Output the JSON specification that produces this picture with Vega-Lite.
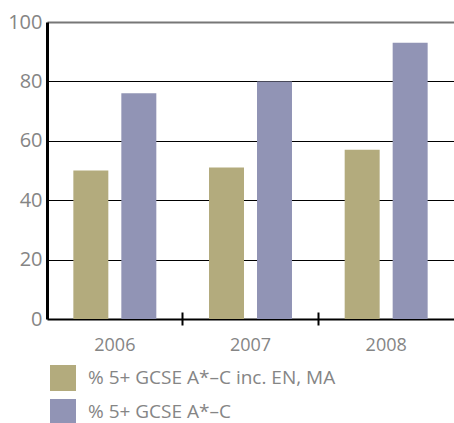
{
  "$schema": "https://vega.github.io/schema/vega-lite/v6.json",
  "width": 407,
  "height": 297,
  "autosize": "none",
  "padding": {"left": 47, "top": 22, "right": 0, "bottom": 104},
  "background": "white",
  "config": {
    "view": {"stroke": null},
    "font": "Open Sans"
  },
  "data": {
    "values": [
      {"year": "2006", "series": "% 5+ GCSE A*–C inc. EN, MA", "value": 50},
      {"year": "2006", "series": "% 5+ GCSE A*–C", "value": 76},
      {"year": "2007", "series": "% 5+ GCSE A*–C inc. EN, MA", "value": 51},
      {"year": "2007", "series": "% 5+ GCSE A*–C", "value": 80},
      {"year": "2008", "series": "% 5+ GCSE A*–C inc. EN, MA", "value": 57},
      {"year": "2008", "series": "% 5+ GCSE A*–C", "value": 93}
    ]
  },
  "mark": {"type": "bar"},
  "encoding": {
    "x": {
      "field": "year",
      "type": "nominal",
      "scale": {"paddingInner": 0, "paddingOuter": 0},
      "axis": {
        "title": null,
        "domain": false,
        "offset": -7,
        "tickSize": 13,
        "tickWidth": 2,
        "tickColor": "black",
        "tickOpacity": {"expr": "datum.value == '2006' ? 0 : 1"},
        "bandPosition": 0,
        "labelAngle": 0,
        "labelPadding": 11,
        "labelFontSize": 18,
        "labelColor": "#858585",
        "labelFont": "Open Sans"
      }
    },
    "xOffset": {
      "field": "series",
      "type": "nominal",
      "sort": ["% 5+ GCSE A*–C inc. EN, MA", "% 5+ GCSE A*–C"],
      "scale": {"paddingInner": 0.271, "paddingOuter": 0.549}
    },
    "y": {
      "field": "value",
      "type": "quantitative",
      "scale": {"domain": [0, 100], "nice": false},
      "axis": {
        "title": null,
        "values": [0, 20, 40, 60, 80, 100],
        "domainColor": "black",
        "domainWidth": 3,
        "ticks": false,
        "labelPadding": 5,
        "labelFontSize": 20,
        "labelColor": "#858585",
        "labelFont": "Open Sans",
        "grid": true,
        "gridColor": {"expr": "datum.value == 100 ? '#777777' : 'black'"},
        "gridWidth": {"expr": "datum.value == 0 || datum.value == 100 ? 2 : 1"},
        "gridOpacity": 1
      }
    },
    "color": {
      "field": "series",
      "type": "nominal",
      "sort": ["% 5+ GCSE A*–C inc. EN, MA", "% 5+ GCSE A*–C"],
      "scale": {
        "domain": ["% 5+ GCSE A*–C inc. EN, MA", "% 5+ GCSE A*–C"],
        "range": ["#b3ab7d", "#9194b5"]
      },
      "legend": {
        "title": null,
        "orient": "none",
        "legendX": 3,
        "legendY": 343,
        "padding": 0,
        "symbolType": "square",
        "symbolSize": 676,
        "symbolStrokeWidth": 0,
        "symbolOpacity": 1,
        "rowPadding": 8,
        "labelOffset": 12,
        "labelFontSize": 19,
        "labelColor": "#858585",
        "labelFont": "Open Sans",
        "labelLimit": 400
      }
    }
  }
}
